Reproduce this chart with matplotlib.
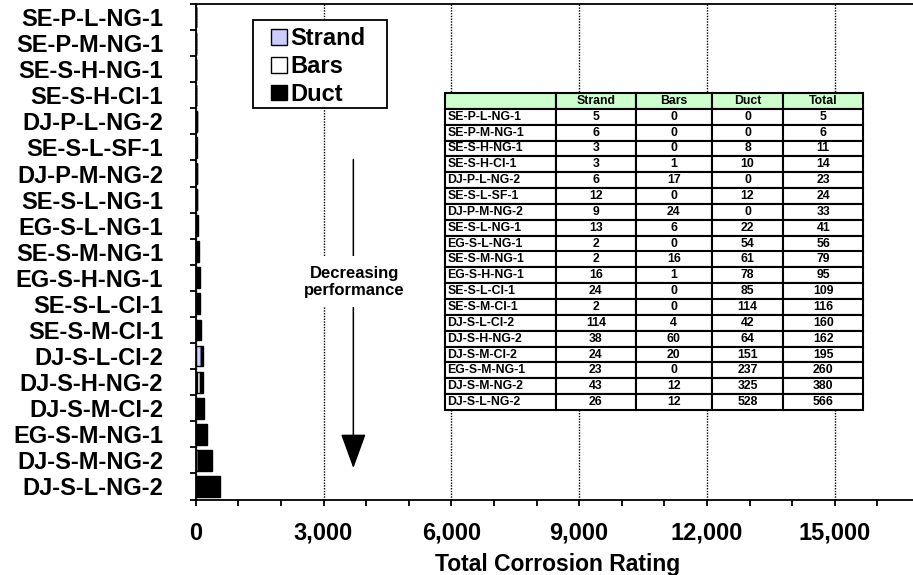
import numpy as np
import matplotlib
matplotlib.use("Agg")
import matplotlib.pyplot as plt
from matplotlib.ticker import MultipleLocator, FuncFormatter, NullFormatter
from matplotlib.patches import Rectangle, Patch

plt.rcParams['font.family'] = ['Liberation Sans', 'DejaVu Sans']
plt.rcParams['font.weight'] = 'bold'

# Specimens, ordered from best to worst performance
specimens = ["SE-P-L-NG-1", "SE-P-M-NG-1", "SE-S-H-NG-1", "SE-S-H-CI-1",
             "DJ-P-L-NG-2", "SE-S-L-SF-1", "DJ-P-M-NG-2", "SE-S-L-NG-1",
             "EG-S-L-NG-1", "SE-S-M-NG-1", "EG-S-H-NG-1", "SE-S-L-CI-1",
             "SE-S-M-CI-1", "DJ-S-L-CI-2", "DJ-S-H-NG-2", "DJ-S-M-CI-2",
             "EG-S-M-NG-1", "DJ-S-M-NG-2", "DJ-S-L-NG-2"]
strand = [5, 6, 3, 3, 6, 12, 9, 13, 2, 2, 16, 24, 2, 114, 38, 24, 23, 43, 26]
bars = [0, 0, 0, 1, 17, 0, 24, 6, 0, 16, 1, 0, 0, 4, 60, 20, 0, 12, 12]
duct = [0, 0, 8, 10, 0, 12, 0, 22, 54, 61, 78, 85, 114, 42, 64, 151, 237, 325, 528]
total = [5, 6, 11, 14, 23, 24, 33, 41, 56, 79, 95, 109, 116, 160, 162, 195, 260, 380, 566]
table_columns = ["", "Strand", "Bars", "Duct", "Total"]

W, H = 913, 575
fig = plt.figure(figsize=(W / 100, H / 100), dpi=100)
ax_left, ax_right, ax_top, ax_bottom = 195.7, 920.0, 4.0, 499.5
ax = fig.add_axes([ax_left / W, (H - ax_bottom) / H,
                   (ax_right - ax_left) / W, (ax_bottom - ax_top) / H])

y = np.arange(len(specimens))
s = np.array(strand)
b = np.array(bars)
d = np.array(duct)
bh = 0.8
ax.barh(y, s, height=bh, color="#CCCCFF", edgecolor="black", lw=1.0, zorder=2)
ax.barh(y, b, left=s, height=bh, color="white", edgecolor="black", lw=1.0, zorder=2)
ax.barh(y, d, left=s + b, height=bh, color="black", edgecolor="black", lw=1.0, zorder=2)

ax.set_xlim(0, 17000)
ax.set_ylim(len(specimens) - 0.5, -0.5)

# x axis: labelled every 3,000, tick marks every 1,000
ax.xaxis.set_major_locator(MultipleLocator(3000))
ax.xaxis.set_minor_locator(MultipleLocator(1000))
ax.xaxis.set_major_formatter(FuncFormatter(lambda v, p: f"{v:,.0f}"))
ax.tick_params(axis="x", which="both", direction="out", length=4.5, width=1.3,
               labelsize=17, pad=11.5)

# y axis: tick marks at category boundaries, labels at centres
ax.set_yticks(np.arange(-0.5, len(specimens), 1.0))
ax.yaxis.set_major_formatter(NullFormatter())
ax.set_yticks(y, minor=True)
ax.set_yticklabels(specimens, minor=True)
ax.tick_params(axis="y", which="major", direction="out", length=4.5, width=1.3)
ax.tick_params(axis="y", which="minor", length=0, labelsize=17, pad=23.5)

ax.grid(axis="x", which="major", color="black", linestyle=(0, (1, 1)), lw=1.0)
ax.set_axisbelow(True)

for side in ("left", "bottom", "top"):
    ax.spines[side].set_linewidth(1.3)
ax.spines["right"].set_visible(False)

ax.set_xlabel("Total Corrosion Rating", fontsize=16.5, fontweight="bold", labelpad=6)

# Legend with its own frame
lg_box = (253, 20, 387, 108)
frame = Rectangle((lg_box[0] / W, 1 - lg_box[3] / H),
                  (lg_box[2] - lg_box[0]) / W, (lg_box[3] - lg_box[1]) / H,
                  transform=fig.transFigure, facecolor="white", edgecolor="black",
                  lw=1.3, zorder=4)
ax.add_artist(frame)
handles = [Patch(facecolor="#CCCCFF", edgecolor="black", lw=1.0),
           Patch(facecolor="white", edgecolor="black", lw=1.0),
           Patch(facecolor="black", edgecolor="black", lw=1.0)]
leg = ax.legend(handles, ["Strand", "Bars", "Duct"], frameon=False,
                loc="upper left", bbox_to_anchor=(269 / W, 1 - 25 / H),
                bbox_transform=fig.transFigure, borderaxespad=0, borderpad=0.1,
                handlelength=0.65, handleheight=0.65, handletextpad=0.15,
                labelspacing=0.2, prop={"size": 17, "weight": "bold"})
leg.set_zorder(5)

# Direction annotation
ax.annotate("", xy=(3700, 17.3), xytext=(3700, 5.46),
            arrowprops=dict(arrowstyle="-|>,head_length=1.1,head_width=0.4",
                            mutation_scale=20, lw=1.1, color="black",
                            shrinkA=0, shrinkB=0), zorder=3)
ax.text(3720, 10.15, "Decreasing\nperformance", ha="center", va="center",
        fontsize=12, fontweight="bold", zorder=4, linespacing=1.15,
        bbox=dict(facecolor="white", edgecolor="none", pad=7))

# Data table
rows = [[n, str(a), str(c), str(e), str(t)]
        for n, a, c, e, t in zip(specimens, strand, bars, duct, total)]
col_w = np.array([111, 79.7, 76, 71.6, 80])
tb_l, tb_r, tb_t, tb_b = 445, 863.3, 93, 410
aw, ah = ax_right - ax_left, ax_bottom - ax_top
table = ax.table(cellText=rows, colLabels=table_columns,
                 colWidths=list(col_w / col_w.sum()), cellLoc="center",
                 bbox=[(tb_l - ax_left) / aw, (ax_bottom - tb_b) / ah,
                       (tb_r - tb_l) / aw, (tb_b - tb_t) / ah])
table.auto_set_font_size(False)
table.set_fontsize(8.8)
table.set_zorder(6)
for (r, c), cell in table.get_celld().items():
    cell.set_linewidth(1.5)
    cell.set_edgecolor("black")
    cell.get_text().set_fontweight("bold")
    if r == 0:
        cell.set_facecolor("#CCFFCC")
    else:
        cell.set_facecolor("white")
    if c == 0 and r > 0:
        cell._loc = "left"
        cell.PAD = 0.02
        cell.get_text().set_horizontalalignment("left")

fig.savefig("out.png", dpi=100)
